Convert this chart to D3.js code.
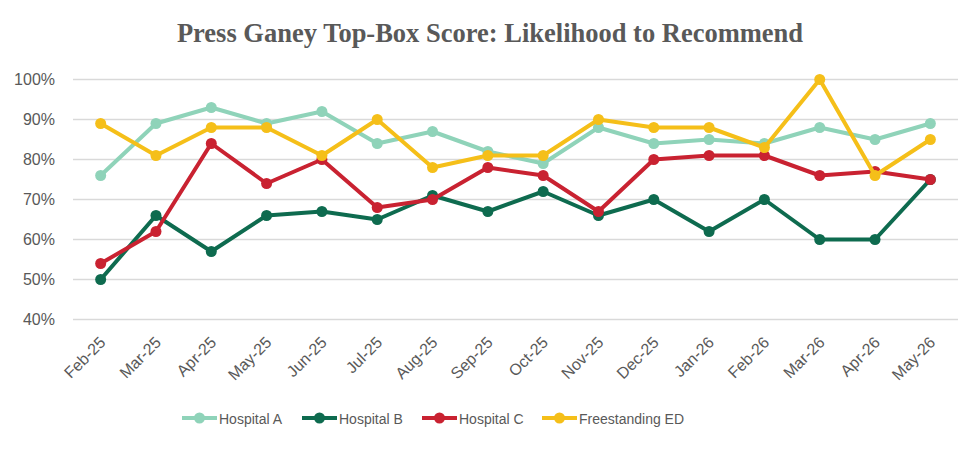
<!DOCTYPE html>
<html lang="en">
<head>
    <meta charset="UTF-8">
    <title>Likelihood to Recommend</title>
    <script src="https://d3js.org/d3.v7.min.js"></script>
    <style>
        body { margin: 0; background: #fff; }
        .grid line { stroke: #d9d9d9; stroke-width: 1.3; }
        .axis text { fill: #595959; font-family: "Liberation Sans", Arial, sans-serif; font-size: 16px; }
        .title { fill: #595959; font-family: "Liberation Serif", serif; font-weight: bold; font-size: 26.5px; }
        .legend text { fill: #595959; font-family: "Liberation Sans", Arial, sans-serif; font-size: 14px; }
    </style>
</head>
<body>
<script>
    const width  = 978;
    const height = 450;

    const months = ["Feb-25","Mar-25","Apr-25","May-25","Jun-25","Jul-25","Aug-25","Sep-25",
                    "Oct-25","Nov-25","Dec-25","Jan-26","Feb-26","Mar-26","Apr-26","May-26"];
    const hospitalA = [76, 89, 93, 89, 92, 84, 87, 82, 79, 88, 84, 85, 84, 88, 85, 89];
    const hospitalB = [50, 66, 57, 66, 67, 65, 71, 67, 72, 66, 70, 62, 70, 60, 60, 75];
    const hospitalC = [54, 62, 84, 74, 80, 68, 70, 78, 76, 67, 80, 81, 81, 76, 77, 75];
    const freeED    = [89, 81, 88, 88, 81, 90, 78, 81, 81, 90, 88, 88, 83, 100, 76, 85];
    const yTicks = [0.4, 0.5, 0.6, 0.7, 0.8, 0.9, 1.0];

    const series = [
        {name: "Hospital A",      values: hospitalA, color: "#8fd3b9"},
        {name: "Hospital B",      values: hospitalB, color: "#0e6b4f"},
        {name: "Hospital C",      values: hospitalC, color: "#c92231"},
        {name: "Freestanding ED", values: freeED,    color: "#f5bf19"}
    ];

    const plotLeft = 73, plotRight = 958, plotTop = 79.5, plotBottom = 319.5;

    const x = d3.scaleBand().domain(months).range([plotLeft, plotRight]);
    const y = d3.scaleLinear().domain([0.4, 1.0]).range([plotBottom, plotTop]);

    const svg = d3.select("body").append("svg").attr("width", width).attr("height", height);

    svg.append("text").attr("class", "title")
       .attr("x", 490).attr("y", 42).attr("text-anchor", "middle")
       .text("Press Ganey Top-Box Score: Likelihood to Recommend");

    // gridlines
    svg.append("g").attr("class", "grid")
       .selectAll("line").data(yTicks).join("line")
       .attr("x1", plotLeft).attr("x2", plotRight)
       .attr("y1", d => y(d)).attr("y2", d => y(d));

    // y axis
    const yAxis = svg.append("g").attr("class", "axis")
       .attr("transform", `translate(${plotLeft},0)`)
       .call(d3.axisLeft(y).tickValues(yTicks).tickFormat(d3.format(".0%")).tickSize(0).tickPadding(18));
    yAxis.select(".domain").remove();

    // x axis
    const xAxis = svg.append("g").attr("class", "axis")
       .attr("transform", `translate(0,${plotBottom})`)
       .call(d3.axisBottom(x).tickSize(0).tickPadding(0));
    xAxis.select(".domain").remove();
    xAxis.selectAll("text")
         .attr("text-anchor", "end")
         .attr("dy", 0)
         .attr("transform", "translate(6,24) rotate(-45)");

    const line = d3.line()
                   .x((d, i) => x(months[i]) + x.bandwidth() / 2)
                   .y(d => y(d / 100));

    const groups = svg.selectAll("g.series").data(series).join("g").attr("class", "series");
    groups.append("path")
          .attr("d", d => line(d.values))
          .attr("fill", "none")
          .attr("stroke", d => d.color)
          .attr("stroke-width", 4)
          .attr("stroke-linejoin", "round");
    groups.selectAll("circle").data(d => d.values.map(v => ({v, color: d.color}))).join("circle")
          .attr("cx", (d, i) => x(months[i]) + x.bandwidth() / 2)
          .attr("cy", d => y(d.v / 100))
          .attr("r", 5.5)
          .attr("fill", d => d.color);

    // legend
    const legendX = [182, 302, 422, 542];
    const legend = svg.append("g").attr("class", "legend")
        .selectAll("g").data(series).join("g")
        .attr("transform", (d, i) => `translate(${legendX[i]},418)`);
    legend.append("line").attr("x1", 0).attr("x2", 35).attr("y1", 0).attr("y2", 0)
          .attr("stroke", d => d.color).attr("stroke-width", 4);
    legend.append("circle").attr("cx", 17.5).attr("cy", 0).attr("r", 5.5).attr("fill", d => d.color);
    legend.append("text").attr("x", 37).attr("y", 5.5).text(d => d.name);
</script>
</body>
</html>
